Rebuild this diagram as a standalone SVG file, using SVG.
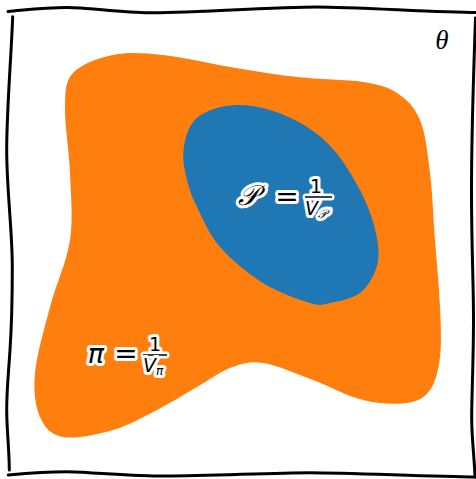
<svg xmlns="http://www.w3.org/2000/svg" width="476" height="479" viewBox="0 0 476 479">
<style>
.frame{fill:none;stroke:#000;stroke-width:3;stroke-linecap:round;stroke-linejoin:round}
.lbl{font-family:"DejaVu Sans",sans-serif;fill:#000;stroke:#fff;stroke-width:6;stroke-linejoin:round;paint-order:stroke}
.it{font-style:italic}
.bar{stroke:#000;stroke-width:1.5}
.barw{stroke:#fff;stroke-width:7;stroke-linecap:round}
</style>
<rect width="476" height="479" fill="#fff"/>
<g id="frame">
<path class="frame" d="M8 11.5 C30 9.5 45 7.5 67 7.5 S120 12.8 150 12.8 S280 7 317 7 S440 12.5 476 12.5"/>
<path class="frame" d="M12.7 16.7 C11 60 6.7 110 6.7 150 S12.3 230 12.3 267 S12 320 10 350 S6.7 390 6.7 410 S9.3 450 9.3 470"/>
<path class="frame" d="M8.3 475 C30 473 50 471.7 67 471.7 S120 475.5 160 476 S270 472.7 310 472.7 S430 476.7 476 477"/>
<path class="frame" d="M475.5 18 C474 60 471.5 130 471.5 190 S473.5 280 473.5 320 S471.5 400 471.7 420 S474.5 460 475 477"/>
</g>
<g id="region-pi">
<path fill="#ff7f0e" d="M73 73 C81 64.3 98 58 113 55 S143.5 53 163 55 S207.7 63.3 230 67 S274.8 74.5 297 77 S346.3 79.3 363 82 S387.5 86.7 397 93 S414.5 106.7 420 120 S427.5 153 430 173 S433.3 217.7 435 240 S439.2 287.5 440 307 S441.7 343.2 440 357 S435.5 382.3 430 390 S418.2 401.3 407 403 S378.7 403.8 363 400 S329.7 386.2 313 380 S276.8 365 263 363 S241 364 230 368 S209.2 380 197 387 S171 402.8 157 410 S128.7 425.5 113 430 S75.2 439.2 63 437 S44.7 427.7 40 417 S33.3 391.3 35 373 S44.2 329.2 50 307 S66.7 262.3 70 240 S70.8 195.2 70 173 S64.5 123.7 65 107 S65 81.7 73 73 Z"/>
</g>
<g id="region-P">
<path fill="#1f77b4" d="M236.7 105 C247.3 104.7 258.3 106.4 270 110 S295.6 119.5 306.7 126.7 S327.3 141.6 336.7 153.3 S356.6 182.8 363.3 196.7 S374.5 225 376.7 236.7 S379.5 257.3 376.7 266.7 S367.8 287 360 293 S338.3 301.3 330 303 S321.2 306.3 310 303 S278 292.3 263 283 S231 259.7 220 247 S202.5 218.2 197 207 S189.3 189 187 180 S182.8 162.2 183.3 153.3 S186.1 133.6 190 126.7 S198.9 115.3 206.7 111.7 S226.1 105.3 236.7 105 Z"/>
</g>
<g id="label-P">
<text class="lbl" x="238" y="205" font-size="28" font-family="'DejaVu Serif',serif" font-style="italic">𝒫</text>
<text class="lbl" x="287" y="206" font-size="28" text-anchor="middle">=</text>
<text class="lbl" x="316" y="193" font-size="19" text-anchor="middle">1</text>
<line class="barw" x1="306" y1="197" x2="331" y2="197"/>
<line class="bar" x1="305" y1="197" x2="332" y2="197"/>
<text class="lbl it" x="305" y="215" font-size="19">V<tspan font-size="12" dy="3">𝒫</tspan></text>
</g>
<g id="label-pi">
<text class="lbl it" x="96" y="363" font-size="27" text-anchor="middle">π</text>
<text class="lbl" x="126" y="363" font-size="28" text-anchor="middle">=</text>
<text class="lbl" x="155" y="351" font-size="19" text-anchor="middle">1</text>
<line class="barw" x1="144" y1="355" x2="166" y2="355"/>
<line class="bar" x1="143" y1="355" x2="167" y2="355"/>
<text class="lbl it" x="143" y="372" font-size="19">V<tspan font-size="12" dy="3">π</tspan></text>
</g>
<g id="label-theta">
<text x="442" y="49" font-size="27" font-family="'Liberation Serif',serif" font-style="italic" text-anchor="middle">θ</text>
</g>
</svg>
